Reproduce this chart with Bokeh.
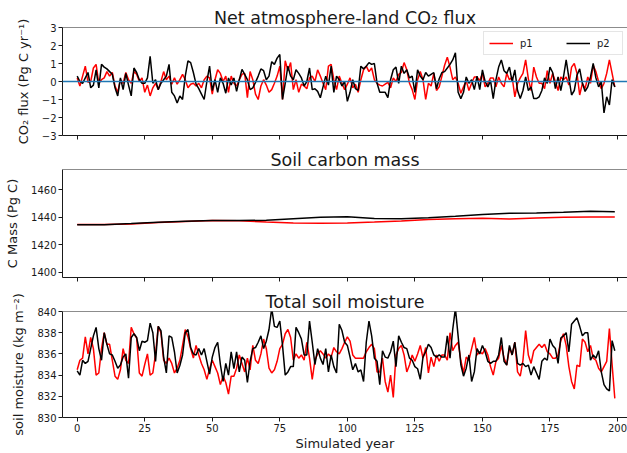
from bokeh.plotting import figure
from bokeh.models import (Span, FixedTicker, CustomJSTickFormatter, Legend,
                          LegendItem, Range1d, CustomLabelingPolicy)
from bokeh.layouts import column
from bokeh.embed import file_html
from bokeh.resources import INLINE

# ---------------- data ----------------
years = list(range(200))

flux_p1 = [
    0.2, -0.25, 0.3, 0.85, -0.05, 0.0, 0.75, 0.95, -0.1, 0.1,
    0.2, 0.55, 0.3, 0.5, -0.25, -0.6, 0.1, -0.1, 0.5, 0.1,
    -0.1, 0.55, 0.4, 0.0, 0.2, -0.6, -0.2, -0.8, -0.35, -0.1,
    -0.45, 0.0, 0.55, 0.1, 0.3, -0.15, 0.2, -0.15, 0.1, 0.4,
    0.1, -0.35, -0.15, -0.1, -0.25, -0.1, -0.35, 0.1, 0.3, 0.2,
    -0.7, 0.1, 0.65, 0.45, 0.0, 0.3, -0.6, 0.3, -0.1, -0.25,
    0.1, 0.4, 0.45, -0.9, 0.55, 0.1, -0.7, -1.0, -0.25, 0.1,
    -0.2, -0.6, -0.45, -0.1, 0.3, 0.85, -1.0, 1.15, 0.6, 1.05,
    -0.45, 0.1, -0.6, -0.15, -0.25, -0.4, 0.2, 0.3, 0.0, 0.65,
    0.3, -0.1, -0.45, 0.85, 0.95, 0.1, -0.45, 0.3, -0.1, -0.45,
    -0.15, 0.2, -0.35, -0.15, -0.6, 0.1, 0.65, 0.85, 0.55, 0.75,
    0.1, -0.1, -0.2, -0.25, -0.15, -0.05, -0.35, 0.2, 0.0, 0.4,
    0.5, 1.05, 0.65, -0.1, -0.45, -1.0, 0.1, 0.55, 0.1, -1.0,
    -0.1, -0.25, 0.45, -0.5, -0.3, 0.3, 0.9, 1.35, 0.8, 0.1,
    0.25, -0.1, -0.65, -0.3, 0.05, -0.5, -0.1, 0.25, 0.25, 0.05,
    0.45, -0.3, -0.1, 0.2, 0.2, -0.3, 0.25, -0.1, -0.3, 0.45,
    0.1, 0.25, -0.85, -0.1, 0.2, 0.45, 1.2, 0.15, -0.5, 0.8,
    0.25, -0.1, -0.1, -0.4, 0.6, -0.1, 0.45, 0.0, -0.5, 0.25,
    0.1, 0.25, -0.2, 0.8, 1.0, 0.45, -0.75, -0.1, -0.4, 0.25,
    -0.1, 0.9, 0.55, 0.0, -0.4, -0.1, 0.45, 1.2, 0.45, -0.3,
]

flux_p2 = [
    0.3, 0.0, -0.1, 0.2, 0.5, -0.35, -0.2, 0.65, -0.35, 0.95,
    0.8, 0.7, 0.55, 0.4, -0.35, -0.8, 0.2, -0.45, 0.45, -0.2,
    -0.8, 0.75, 0.5, 0.1, -0.1, -0.1, 0.2, 1.4, -0.1, 0.1,
    -0.45, -0.1, 0.1, 0.3, 0.95, -0.6, -0.8, -1.2, -0.8, -1.0,
    0.3, 1.15, 1.05, 0.5, -0.15, -0.4, -0.7, -1.0, 0.0, 0.85,
    -0.5, 0.1, -0.6, 0.2, -0.1, -0.65, 0.2, -0.2, 0.2, -0.55,
    0.1, 0.67, 0.4, 0.1, -0.45, -0.35, -0.05, 0.3, 0.7, 0.6,
    0.1, 0.3, 1.1, 0.95, 1.3, 1.5, -1.0, -0.1, 0.85, 0.3,
    0.1, 0.65, 0.45, 0.2, -0.25, 0.0, 0.75, -0.45, -0.4, -0.55,
    -0.9, -0.3, 0.3, -0.2, 0.85, -0.6, 0.3, 0.1, -0.25, 0.0,
    -1.1, -0.6, 0.1, -0.4, -0.5, 0.85, 0.7, 0.85, 1.05, 0.95,
    1.0, -0.1, -0.6, -0.6, -0.6, -0.9, 0.1, 0.65, 0.8, -0.1,
    0.85, 0.45, 0.65, 0.2, 0.3, -0.6, 0.65, 0.3, 0.1, 0.5,
    0.3, 0.4, 0.5, -0.4, 0.15, 0.5, 0.55, 0.75, 0.95, 1.2,
    1.6, -0.6, -0.95, -0.6, 0.25, -0.1, 0.1, -0.45, 0.3, -0.45,
    0.65, 0.0, -0.3, 0.05, -0.95, 0.1, 0.8, 1.2, 0.6, 0.45,
    0.8, 0.0, 0.65, -0.5, -0.95, -0.5, 0.25, -0.5, -0.3, -0.95,
    -0.95, -0.85, -0.5, 0.2, -0.1, 0.8, 0.5, -0.4, 0.25, -0.5,
    0.25, 1.2, 0.2, -0.75, -0.5, 0.35, 0.7, -0.1, -0.55, -0.3,
    0.25, 1.0, 0.2, -0.3, 0.0, -1.75, -0.85, -1.3, 0.1, -0.3,
]

carbon_years = [0, 10, 20, 30, 40, 50, 60, 70, 80, 90, 100,
                110, 120, 130, 140, 150, 160, 170, 180, 190, 199]
carbon_p1 = [1434.6, 1434.6, 1435.0, 1436.0, 1436.8, 1437.6, 1437.3, 1436.5,
             1435.8, 1435.6, 1435.8, 1436.4, 1437.2, 1438.3, 1438.8, 1439.2,
             1438.7, 1439.3, 1439.8, 1440.1, 1440.0]
carbon_p2 = [1434.5, 1434.5, 1435.3, 1436.3, 1437.0, 1437.6, 1437.5, 1437.7,
             1438.8, 1439.8, 1440.2, 1439.0, 1438.8, 1439.6, 1440.6, 1441.9,
             1442.7, 1443.0, 1443.5, 1444.2, 1443.8]

moist_p1 = [
    834.5, 835.4, 835.6, 837.6, 836.0, 837.55, 836.5, 834.0, 834.2, 836.5,
    838.0, 836.9, 836.9, 835.4, 833.9, 833.6, 834.5, 836.5, 835.4, 835.1,
    838.5, 837.9, 837.5, 834.2, 833.9, 835.0, 836.0, 834.0, 834.2, 836.0,
    838.6, 838.0, 835.4, 835.1, 835.6, 835.1, 834.2, 834.65, 835.4, 836.8,
    838.3, 837.6, 836.5, 835.6, 836.8, 835.9, 835.1, 834.5, 833.6, 834.6,
    835.4, 834.8, 834.2, 833.1, 833.9, 833.3, 832.2, 833.9, 833.9, 834.65,
    835.9, 835.1, 834.3, 835.6, 834.5, 836.8, 835.4, 835.1, 836.0, 837.4,
    836.5, 834.65, 834.2, 834.5, 835.3, 836.5, 836.9, 837.9, 838.3, 837.55,
    835.4, 836.0, 835.6, 835.9, 835.4, 837.1, 835.6, 833.6, 835.4, 836.0,
    836.3, 836.0, 835.6, 836.0, 835.7, 836.6, 836.2, 836.0, 836.5, 837.1,
    837.6, 837.2, 835.9, 835.6, 835.6, 835.6, 835.6, 836.2, 836.6, 836.9,
    836.5, 834.3, 834.3, 835.6, 833.4, 832.4, 834.0, 831.9, 835.9, 836.5,
    836.8, 835.9, 834.3, 834.95, 835.9, 835.3, 836.0, 836.8, 835.6, 836.6,
    834.2, 835.7, 834.8, 835.9, 835.3, 835.9, 835.9, 835.4, 838.0, 836.3,
    836.8, 837.1, 835.4, 834.2, 835.7, 835.4, 836.5, 837.55, 835.9, 836.2,
    836.0, 836.5, 835.9, 834.8, 834.0, 835.3, 835.6, 836.8, 835.6, 834.95,
    836.6, 835.9, 837.1, 834.3, 833.9, 835.4, 838.2, 835.9, 835.1, 836.3,
    836.6, 836.9, 836.6, 836.9, 836.2, 836.0, 835.6, 835.6, 835.9, 837.25,
    837.9, 836.8, 834.8, 833.4, 832.7, 834.95, 834.8, 837.4, 837.1, 836.2,
    836.8, 835.6, 835.4, 834.65, 834.3, 834.8, 835.3, 838.4, 835.0, 831.8,
]

moist_p2 = [
    834.4, 834.0, 835.4, 835.1, 835.3, 836.5, 837.7, 838.5, 836.5, 835.4,
    838.0, 836.9, 836.0, 835.9, 835.3, 834.65, 834.95, 835.7, 836.0, 833.7,
    837.55, 837.9, 837.55, 836.3, 837.2, 837.1, 837.25, 838.9, 838.0, 835.3,
    838.6, 838.2, 835.7, 834.2, 837.7, 837.55, 836.2, 834.2, 834.9, 835.9,
    838.0, 838.3, 836.6, 836.0, 835.9, 836.5, 835.9, 836.5, 835.3, 834.1,
    835.7, 836.6, 837.1, 835.0, 833.4, 835.1, 834.0, 836.2, 834.6, 836.2,
    834.3, 835.7, 835.4, 833.3, 835.3, 836.5, 836.6, 837.1, 837.7, 836.5,
    837.2, 838.3, 840.3, 838.6, 838.5, 839.1, 836.8, 834.0, 834.3, 834.8,
    834.8, 838.5, 838.0, 837.4, 835.9, 835.9, 839.1, 837.1, 835.0, 836.5,
    835.6, 835.0, 836.5, 834.3, 835.9, 834.8, 834.2, 838.8, 838.2, 837.1,
    836.8, 835.7, 834.5, 835.1, 834.3, 834.5, 833.4, 837.1, 839.1, 837.7,
    835.6, 835.3, 833.1, 836.3, 835.7, 835.6, 836.2, 837.2, 834.8, 837.7,
    837.1, 836.6, 836.5, 835.6, 835.4, 834.8, 834.6, 833.6, 835.7, 836.2,
    836.9, 836.6, 835.9, 835.7, 835.9, 835.7, 835.7, 837.7, 835.6, 838.3,
    840.3, 837.7, 835.0, 833.9, 834.65, 835.9, 833.4, 834.3, 836.5, 836.0,
    836.8, 836.2, 835.3, 835.1, 835.3, 835.3, 835.9, 837.55, 835.3, 834.95,
    836.8, 835.9, 837.1, 835.1, 834.95, 835.1, 834.8, 834.95, 834.0, 834.8,
    834.2, 833.6, 835.3, 835.6, 835.4, 837.4, 836.8, 836.5, 835.1, 837.5,
    837.7, 838.0, 836.2, 838.8, 839.1, 839.4, 838.6, 837.7, 838.0, 838.0,
    835.4, 835.9, 835.6, 836.3, 834.3, 833.1, 832.7, 832.5, 837.25, 836.3,
]

x_ticks = [0, 25, 50, 75, 100, 125, 150, 175, 200]
flux_ticks = [-3, -2, -1, 0, 1, 2, 3]
carbon_ticks = [1400, 1420, 1440, 1460]
moist_ticks = [830, 832, 834, 836, 838, 840]

# ---------------- styling ----------------
FONT = "DejaVu Sans"
INK = "#1a1a1a"
X_START, X_END = -5.44, 203.7
WIDTH = 627

minus_fmt = CustomJSTickFormatter(
    code="return tick < 0 ? '\\u2212' + (-tick) : String(tick);")
no_labels = CustomLabelingPolicy(code="return []")


def make_fig(height, top, bottom, title, ylabel, y0, y1, yticks, xlabels):
    p = figure(width=WIDTH, height=height,
               x_range=Range1d(X_START, X_END), y_range=Range1d(y0, y1),
               output_backend="svg", toolbar_location=None,
               min_border_left=62, min_border_right=0,
               min_border_top=top, min_border_bottom=bottom, title=title)
    p.outline_line_color = None
    p.grid.visible = False
    p.background_fill_color = "white"
    p.border_fill_color = "white"

    t = p.title
    t.text_font = FONT
    t.text_font_size = "17.5px"
    t.text_font_style = "normal"
    t.text_color = INK
    t.align = "center"
    t.standoff = 0

    xa = p.xaxis[0]
    xa.ticker = FixedTicker(ticks=x_ticks)
    xa.minor_tick_line_color = None
    xa.major_tick_out = 4
    xa.major_tick_in = 0
    xa.axis_line_color = INK
    xa.major_tick_line_color = INK
    xa.major_label_text_font = FONT
    xa.major_label_text_color = INK
    if xlabels:
        xa.major_label_text_font_size = "10px"
        xa.major_label_standoff = 2
        xa.axis_label = "Simulated year"
        xa.axis_label_text_font = FONT
        xa.axis_label_text_font_size = "13px"
        xa.axis_label_text_font_style = "normal"
        xa.axis_label_text_color = INK
        xa.axis_label_standoff = 1
    else:
        xa.major_label_text_font_size = "0px"
        xa.major_label_standoff = 0
        xa.major_label_policy = no_labels

    ya = p.yaxis[0]
    ya.ticker = FixedTicker(ticks=yticks)
    ya.formatter = minus_fmt
    ya.minor_tick_line_color = None
    ya.major_tick_out = 4
    ya.major_tick_in = 0
    ya.axis_line_color = INK
    ya.major_tick_line_color = INK
    ya.major_label_text_font = FONT
    ya.major_label_text_font_size = "10px"
    ya.major_label_text_color = INK
    ya.major_label_standoff = 2
    ya.axis_label = ylabel
    ya.axis_label_text_font = FONT
    ya.axis_label_text_font_size = "13px"
    ya.axis_label_text_font_style = "normal"
    ya.axis_label_text_color = INK
    ya.axis_label_standoff = 8

    # top spine
    p.add_layout(Span(location=y1, dimension="width",
                      line_color=INK, line_width=1))
    return p


# ---- panel 1: CO2 flux ----
p1 = make_fig(145, 27, 10, "Net atmosphere-land CO\u2082 flux",
              "CO\u2082 flux (Pg C yr\u207b\u00b9)", -3, 3, flux_ticks, False)
r1 = p1.line(years, flux_p1, line_color="red", line_width=1.5)
r2 = p1.line(years, flux_p2, line_color="black", line_width=1.5)
p1.add_layout(Span(location=0, dimension="width",
                   line_color="#1f77b4", line_width=1.5))
legend = Legend(items=[LegendItem(label="p1", renderers=[r1]),
                       LegendItem(label="p2", renderers=[r2])],
                location="top_right", orientation="horizontal",
                label_text_font=FONT, label_text_font_size="10px",
                label_text_color=INK,
                glyph_width=24, glyph_height=12, label_height=12,
                label_standoff=7, spacing=26, padding=5, margin=4,
                border_line_color="#cccccc", border_line_width=1,
                background_fill_color="white", background_fill_alpha=0.8)
p1.add_layout(legend)

# ---- panel 2: soil carbon ----
p2 = make_fig(143, 24, 11, "Soil carbon mass", "C Mass (Pg C)",
              1396.2, 1474.5, carbon_ticks, False)
p2.line(carbon_years, carbon_p1, line_color="red", line_width=1.5)
p2.line(carbon_years, carbon_p2, line_color="black", line_width=1.5)

# ---- panel 3: soil moisture ----
p3 = make_fig(165, 23, 34, "Total soil moisture",
              "soil moisture (kg m\u207b\u00b2)", 830, 840, moist_ticks, True)
p3.line(years, moist_p1, line_color="red", line_width=1.5)
p3.line(years, moist_p2, line_color="black", line_width=1.5)

layout = column(p1, p2, p3, spacing=0)

open("out.html", "w").write(file_html(layout, INLINE))
